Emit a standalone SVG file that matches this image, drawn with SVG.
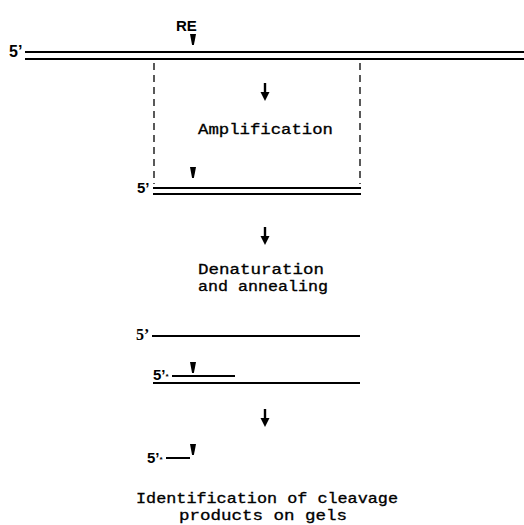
<svg xmlns="http://www.w3.org/2000/svg" width="524" height="525" viewBox="0 0 524 525">
<style>
.strand{stroke:#000;stroke-width:2;fill:none}
.dash{stroke:#000;stroke-width:1.3;stroke-dasharray:7 5;fill:none}
.stem{stroke:#000;stroke-width:2.4;fill:none}
.head{fill:#000}
.lbl{font-family:"Liberation Sans",Arial,sans-serif;font-weight:bold;font-size:15px;fill:#000}
.mono{font-family:"Liberation Mono","Courier New",monospace;font-size:14px;fill:#000;stroke:#000;stroke-width:0.3}
.star{font-size:8px}
</style>
<defs>
<polygon id="cut" points="-3,0 3,0 0.9,11 -0.9,11" fill="#000"/>
<g id="down">
<line class="stem" x1="0" y1="0" x2="0" y2="10"/>
<polygon class="head" points="-4.5,9 4.5,9 0,18"/>
</g>
</defs>
<rect width="524" height="525" fill="#fff"/>

<g id="genomic">
<text class="lbl" x="9" y="57" style="font-size:16px">5’</text>
<line class="strand" x1="25" y1="52" x2="524" y2="52"/>
<line class="strand" x1="25" y1="59" x2="524" y2="59"/>
<text class="lbl" x="176" y="31">RE</text>
<use href="#cut" x="193" y="34"/>
</g>

<g id="amplicon">
<text class="lbl" x="137" y="193">5’</text>
<line class="strand" x1="153" y1="188" x2="361" y2="188"/>
<line class="strand" x1="153" y1="194" x2="361" y2="194"/>
<use href="#cut" x="193" y="167"/>
</g>

<g id="amplification-label">
<text class="mono" x="198" y="134" textLength="135" lengthAdjust="spacingAndGlyphs">Amplification</text>
</g>

<g id="denaturation-label">
<text class="mono" x="198" y="274" textLength="126" lengthAdjust="spacingAndGlyphs">Denaturation</text>
<text class="mono" x="198" y="291" textLength="130" lengthAdjust="spacingAndGlyphs">and annealing</text>
</g>

<g id="single-strand">
<text x="136" y="340" style="font-family:'Liberation Serif','Times New Roman',serif;font-weight:bold;font-size:16px">5’</text>
<line class="strand" x1="152" y1="336" x2="360" y2="336"/>
</g>

<g id="annealed">
<text class="lbl" x="153" y="380">5’<tspan class="star" dy="-1">*</tspan></text>
<line class="strand" x1="172" y1="376" x2="235" y2="376"/>
<use href="#cut" x="193" y="362"/>
<line class="strand" x1="153" y1="383" x2="360" y2="383"/>
</g>

<g id="cleaved">
<text class="lbl" x="147" y="463">5’<tspan class="star" dy="-1">*</tspan></text>
<line class="strand" x1="166" y1="458" x2="190" y2="458"/>
<use href="#cut" x="193" y="444"/>
</g>

<g id="identification-label">
<text class="mono" x="136" y="503" textLength="262" lengthAdjust="spacingAndGlyphs">Identification of cleavage</text>
<text class="mono" x="179" y="520" textLength="168" lengthAdjust="spacingAndGlyphs">products on gels</text>
</g>

<g id="connectors">
<line class="dash" x1="154" y1="63" x2="154" y2="184"/>
<line class="dash" x1="360" y1="63" x2="360" y2="184"/>
<use href="#down" x="265" y="83"/>
<use href="#down" x="265" y="227"/>
<use href="#down" x="265" y="409"/>
</g>
</svg>
